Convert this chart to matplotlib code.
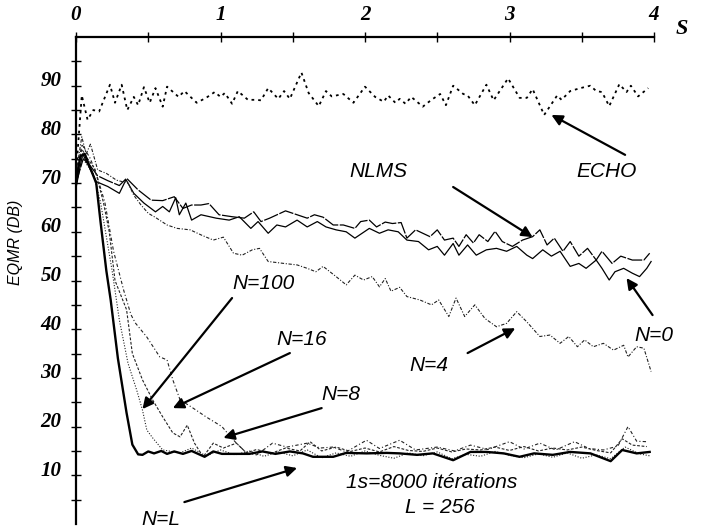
import matplotlib
matplotlib.use("Agg")
import matplotlib.pyplot as plt
from matplotlib.transforms import ScaledTranslation

# time in seconds, EQMR in dB
echo_t = [0, 0.04, 0.08, 0.12, 0.16, 0.235, 0.27, 0.316, 0.355, 0.40, 0.43, 0.47, 0.51, 0.55, 0.60,
          0.63, 0.71, 0.75, 0.835, 0.90, 0.96, 1.0, 1.03, 1.08, 1.12, 1.19, 1.24, 1.28, 1.33, 1.40,
          1.44, 1.48, 1.56, 1.61, 1.68, 1.73, 1.77, 1.85, 1.92, 2.0, 2.07, 2.13, 2.16, 2.21, 2.24,
          2.28, 2.32, 2.40, 2.46, 2.52, 2.56, 2.61, 2.68, 2.71, 2.76, 2.84, 2.89, 2.99, 3.07, 3.12,
          3.16, 3.24, 3.33, 3.36, 3.42, 3.49, 3.56, 3.60, 3.64, 3.69, 3.76, 3.81, 3.84, 3.89, 3.96]
echo_v = [72, 88, 83, 85, 84.7, 90.2, 86.5, 90.2, 85, 87.7, 86, 89.7, 86.5, 89.5, 85.7,
          89.8, 87.7, 88.9, 86.5, 87.5, 88.7, 87.7, 88.5, 86.3, 88.9, 87.1, 87.1, 87, 89.5, 87.3,
          88.9, 87.3, 92.7, 88.5, 85.8, 88.9, 87.8, 88.3, 86.5, 89.8, 87.7, 86.7, 88, 86.5, 87.3,
          86.3, 87.7, 85.7, 87.1, 88.3, 86, 90, 88.3, 88, 86, 90.2, 87, 91.5, 87.5, 87.5,
          89.3, 84, 88, 87.1, 88.9, 89.5, 90, 88.9, 88.7, 85.8, 90.3, 88.7, 90, 87.8, 89.5]

nlms_t = [0, 0.05, 0.10, 0.15, 0.22, 0.30, 0.35, 0.43, 0.52, 0.60, 0.68, 0.74, 0.80, 0.865, 0.92,
          0.99, 1.08, 1.165, 1.23, 1.28, 1.34, 1.45, 1.53, 1.60, 1.65, 1.71, 1.78, 1.85, 1.93, 1.97,
          2.03, 2.08, 2.14, 2.19, 2.25, 2.29, 2.35, 2.40, 2.45, 2.50, 2.55, 2.61, 2.65, 2.70, 2.75,
          2.79, 2.85, 2.90, 2.95, 3.02, 3.09, 3.16, 3.21, 3.26, 3.31, 3.37, 3.42, 3.48, 3.54, 3.60,
          3.64, 3.71, 3.77, 3.85, 3.93, 3.97]
nlms_v = [70, 75, 73.5, 71.5, 70.5, 69.5, 71, 68.6, 66.5, 66.4, 67.2, 64.8, 65.5, 65.5, 65.8,
          63.5, 63.1, 62.8, 64.1, 62.1, 62.8, 64.3, 63.5, 62.8, 63.5, 63, 61.4, 61.4, 60.7, 62.1,
          62.4, 61, 62, 61.7, 61.9, 58.7, 60.4, 59.7, 59, 60.4, 58.3, 58.7, 57, 59.4, 57.7,
          59.4, 58, 60.1, 58, 57, 58.3, 59, 60.4, 57.3, 58.7, 56, 58, 55, 56.6, 54.2,
          56, 53.5, 55, 54.2, 54.2, 55.6]

n0_t = [0, 0.046, 0.14, 0.22, 0.30, 0.346, 0.40, 0.47, 0.55, 0.60, 0.646, 0.69, 0.715, 0.76, 0.80,
        0.865, 0.97, 1.06, 1.13, 1.21, 1.26, 1.33, 1.39, 1.45, 1.53, 1.60, 1.67, 1.73, 1.80, 1.87,
        1.93, 1.98, 2.03, 2.10, 2.16, 2.23, 2.29, 2.37, 2.44, 2.50, 2.55, 2.61, 2.65, 2.71, 2.77,
        2.84, 2.91, 2.98, 3.05, 3.12, 3.16, 3.23, 3.29, 3.35, 3.42, 3.48, 3.53, 3.60, 3.64, 3.69,
        3.73, 3.79, 3.85, 3.90, 3.95, 3.98]
n0_v = [69, 76, 70.3, 69.3, 67.9, 70.7, 67.9, 65.9, 64.1, 65.2, 64.1, 67, 63.5, 65.9, 62.4,
        63.5, 62.8, 62.4, 63.1, 60.7, 62.1, 59.7, 61.4, 61, 62.4, 61, 62.1, 61, 60.4, 60,
        58.7, 59.7, 60.7, 59.7, 60.4, 60, 58.3, 58, 56.3, 57, 55.2, 57.6, 55.2, 57.3, 55.2,
        56.3, 56.6, 56, 57, 55.2, 54.5, 56.3, 55, 56, 52.9, 53.5, 52.5, 54.2, 52.5, 50.1,
        51.8, 52.5, 51.5, 50.8, 52.5, 53.9]

n4_t = [0, 0.04, 0.07, 0.10, 0.15, 0.21, 0.28, 0.36, 0.40, 0.45, 0.50, 0.547, 0.63, 0.70, 0.79,
        0.87, 0.95, 1.02, 1.09, 1.15, 1.22, 1.27, 1.33, 1.44, 1.53, 1.60, 1.66, 1.71, 1.80, 1.87,
        1.93, 1.99, 2.05, 2.10, 2.14, 2.18, 2.24, 2.29, 2.38, 2.46, 2.51, 2.58, 2.63, 2.69, 2.76,
        2.83, 2.91, 2.98, 3.05, 3.12, 3.21, 3.28, 3.35, 3.41, 3.47, 3.52, 3.58, 3.65, 3.72, 3.79,
        3.82, 3.88, 3.93, 3.98]
n4_v = [72, 79.5, 76, 78, 72.7, 72, 70.6, 70, 67.5, 65.5, 63.8, 63, 61.4, 60.7, 60.4,
        59.3, 58.3, 58.9, 55.6, 55.2, 56.3, 56.6, 53.9, 53.5, 53.2, 52.5, 51.8, 52.9, 50.8, 49.1,
        51.1, 50.1, 50.8, 48.7, 50.4, 47.8, 48.6, 46.7, 46, 45, 46, 42.6, 46.4, 42.6, 45,
        42.2, 40.5, 41.2, 43.6, 41.5, 38.5, 38.8, 37.1, 38.5, 36.4, 37.8, 36.4, 37.1, 35.7, 36.7,
        34.3, 36.4, 36.1, 31.3]

n8_t = [0, 0.04, 0.10, 0.15, 0.20, 0.26, 0.33, 0.38, 0.41, 0.49, 0.58, 0.63, 0.67, 0.72, 0.80,
        0.90, 1.01, 1.07, 1.11, 1.18, 1.25, 1.36, 1.46, 1.60, 1.69, 1.78, 1.87, 2.01, 2.10, 2.24,
        2.35, 2.50, 2.62, 2.73, 2.85, 3.00, 3.10, 3.21, 3.32, 3.45, 3.55, 3.65, 3.75, 3.82, 3.88,
        3.95]
n8_v = [71, 78, 75, 71, 66, 56, 48, 43, 41.3, 38.4, 34.3, 33.7, 29.6, 25.5, 24,
        22, 20, 17.9, 16.6, 14.6, 14.2, 16.6, 15.8, 16.6, 15.6, 15.8, 14.8, 17.2, 15.5, 17.2,
        15.2, 15.8, 15, 16.2, 15.3, 16.9, 15.4, 16.6, 15.2, 16.9, 15.5, 15.2, 16, 20, 17,
        16.9]

n16_t = [0, 0.04, 0.08, 0.13, 0.19, 0.23, 0.27, 0.35, 0.39, 0.46, 0.53, 0.60, 0.67, 0.72, 0.77,
         0.82, 0.88, 0.95, 1.02, 1.11, 1.18, 1.25, 1.35, 1.45, 1.55, 1.62, 1.70, 1.80, 1.90, 2.00,
         2.10, 2.20, 2.30, 2.40, 2.50, 2.60, 2.70, 2.80, 2.90, 3.00, 3.10, 3.20, 3.30, 3.40, 3.50,
         3.60, 3.70, 3.78, 3.85, 3.95]
n16_v = [71, 77, 75, 73, 66, 60, 50, 44, 35, 29.6, 25.5, 22, 18.7, 17.9, 20.3,
         16.6, 13.8, 16.6, 15.6, 16.6, 14.6, 15.3, 14.5, 15.6, 15, 16.9, 15, 15.8, 14.9, 15.6,
         14.8, 15.9, 15.1, 14.9, 15.6, 14.8, 15.4, 15.2, 15.8, 15.1, 15.9, 15.0, 15.6, 15.2, 15.8,
         15.1, 14.6, 17.5, 16.2, 15.9]

n100_t = [0, 0.03, 0.07, 0.12, 0.17, 0.25, 0.30, 0.36, 0.42, 0.46, 0.49, 0.53, 0.60, 0.72, 0.80,
          0.90, 1.00, 1.10, 1.20, 1.30, 1.40, 1.50, 1.60, 1.70, 1.80, 1.90, 2.00, 2.10, 2.20, 2.30,
          2.40, 2.50, 2.60, 2.70, 2.80, 2.90, 3.00, 3.10, 3.20, 3.30, 3.40, 3.50, 3.60, 3.70, 3.80,
          3.90, 3.97]
n100_v = [70, 76, 74, 72, 66, 52, 41.9, 33, 27.5, 23.4, 19.3, 17.7, 15.2, 14.6, 15.6,
          14, 15.2, 14.2, 15, 13.9, 14.8, 14.0, 15.2, 13.6, 14.6, 13.9, 15, 14.1, 13.5, 14.6,
          14.0, 14.8, 13.4, 14.3, 13.9, 14.9, 14.1, 13.6, 14.4, 13.7, 14.6, 13.5, 14.2, 13.4, 15.8,
          14.4, 14]

nl_t = [0, 0.03, 0.06, 0.10, 0.14, 0.17, 0.21, 0.24, 0.29, 0.35, 0.39, 0.43, 0.46, 0.50, 0.54,
        0.59, 0.63, 0.68, 0.74, 0.80, 0.89, 0.95, 1.01, 1.11, 1.20, 1.29, 1.38, 1.48, 1.57, 1.64,
        1.78, 1.87, 2.01, 2.15, 2.24, 2.36, 2.47, 2.61, 2.73, 2.84, 2.96, 3.07, 3.17, 3.30, 3.42,
        3.56, 3.70, 3.78, 3.88, 3.97]
nl_v = [70, 75.5, 76, 73, 70, 62, 52, 46, 34, 22.8, 16.3, 14.3, 14.2, 14.9, 14.5,
        15.0, 14.4, 14.9, 14.4, 15, 13.8, 14.9, 14.4, 14.4, 14.4, 14.9, 14.4, 14.9, 14.5, 13.8,
        13.8, 14.6, 14.5, 14.6, 14.5, 14.2, 14.5, 13.1, 14.8, 14.8, 14.5, 13.8, 14.5, 14.2, 14.8,
        14.5, 12.9, 15.2, 14.5, 14.8]

# label text, text position, arrow tail, arrow head (data coords)
labels = [
    ("ECHO", (3.67, 72.3), (3.80, 75.8), (3.29, 84.0)),
    ("NLMS", (2.09, 72.3), (2.61, 69.2), (3.16, 58.9)),
    ("N=0", (4.00, 38.8), (3.99, 42.9), (3.81, 50.5)),
    ("N=4", (2.44, 32.6), (2.71, 35.1), (3.04, 40.2)),
    ("N=100", (1.30, 49.3), (1.08, 46.4), (0.46, 23.6)),
    ("N=16", (1.56, 37.8), (1.48, 35.1), (0.67, 23.8)),
    ("N=8", (1.83, 26.5), (1.70, 23.8), (1.02, 17.7)),
    ("N=L", (0.59, 0.9), (0.75, 4.5), (1.53, 11.5)),
]

fig = plt.figure(figsize=(7.01, 5.28), dpi=100)
ax = fig.add_axes([76 / 701, 4 / 528, 578 / 701, 487 / 528])

ax.plot(echo_t, echo_v, color="black", lw=1.3, ls=(0, (1.5, 2.2)))
ax.plot(nlms_t, nlms_v, color="black", lw=0.9, ls=(0, (12, 1.2)))
ax.plot(n0_t, n0_v, color="black", lw=0.9)
ax.plot(n4_t, n4_v, color="#222222", lw=0.8, ls=(0, (3, 1.5, 1, 1.5)))
ax.plot(n8_t, n8_v, color="#222222", lw=0.8, ls=(0, (3, 2, 1, 2)))
ax.plot(n16_t, n16_v, color="#222222", lw=0.8, ls=(0, (2.5, 1.5)))
ax.plot(n100_t, n100_v, color="#222222", lw=0.8, ls=(0, (1, 1.5)))
ax.plot(nl_t, nl_v, color="black", lw=1.7)

txt_font = dict(family="Liberation Sans", style="italic", size=15)
for name, pos, tail, head in labels:
    ax.annotate("", xy=head, xytext=tail,
                arrowprops=dict(arrowstyle="-|>", lw=1.6, color="black",
                                mutation_scale=16, shrinkA=0, shrinkB=0))
    ax.text(pos[0], pos[1], name, ha="center", va="center", clip_on=False, **txt_font)

ax.text(2.46, 8.6, "1s=8000 itérations", ha="center", va="center", **txt_font)
ax.text(2.52, 3.3, "L = 256", ha="center", va="center", **txt_font)

ax.set_xlim(0, 4)
ax.set_ylim(0, 100)
for s in ["right", "bottom"]:
    ax.spines[s].set_visible(False)
for s in ["top", "left"]:
    ax.spines[s].set_linewidth(1.6)

ax.xaxis.tick_top()
ax.set_xticks([0, 1, 2, 3, 4])
ax.set_xticks([0.5, 1.5, 2.5, 3.5], minor=True)
ax.set_yticks([10, 20, 30, 40, 50, 60, 70, 80, 90])
ax.set_yticks([5, 15, 25, 35, 45, 55, 65, 75, 85, 95], minor=True)
ax.tick_params(which="both", direction="inout", length=7, width=1, color="black")
ax.tick_params(axis="x", pad=5)
ax.tick_params(axis="y", pad=7)

tick_font = dict(family="Liberation Serif", weight="bold", style="italic", size=15)
ax.set_xticklabels(["0", "1", "2", "3", "4"], **tick_font)
ax.set_yticklabels(["10", "20", "30", "40", "50", "60", "70", "80", "90"], **tick_font)
for lab in ax.get_yticklabels():
    lab.set_transform(lab.get_transform() + ScaledTranslation(0, 5 / 72, fig.dpi_scale_trans))

fig.text(682 / 701, 1 - 29 / 528, "S", ha="center", va="center",
         family="Liberation Serif", weight="bold", style="italic", size=16)
fig.text(16 / 701, 1 - 242 / 528, "EQMR (DB)", rotation=90, ha="center", va="center",
         family="Liberation Sans", style="italic", size=11.5)

fig.savefig("out.png", dpi=100, facecolor="white")
